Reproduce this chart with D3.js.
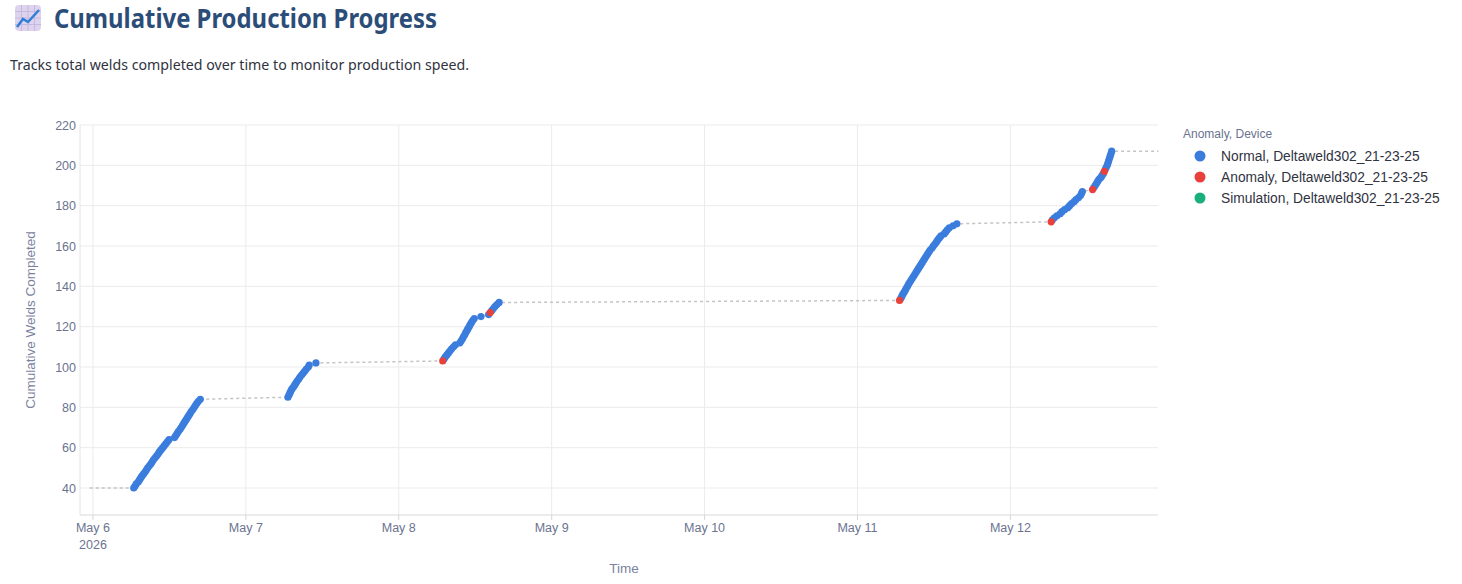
<!DOCTYPE html>
<html><head><meta charset="utf-8">
<script src="https://cdn.jsdelivr.net/npm/d3@7"></script>
<style>body{margin:0;background:#fff;font-family:"Noto Sans","Open Sans",sans-serif;}</style>
</head><body>
<svg id="c" width="1462" height="584"></svg>
<script>
// Data: each cluster = [day string, hours of each weld], counts run consecutively from startCount
const startCount = 40;
const clusterDays = ["2026-05-06","2026-05-07","2026-05-08","2026-05-11","2026-05-12"];
const clusterHours = [
 [6.4,6.6,6.8,7.1,7.3,7.5,7.7,7.95,8.2,8.4,8.6,8.85,9.1,9.3,9.5,9.75,10.0,10.25,10.45,10.7,10.95,11.2,11.45,11.7,11.95,
  12.8,13.0,13.2,13.4,13.65,13.85,14.05,14.25,14.45,14.65,14.85,15.05,15.25,15.45,15.7,15.9,16.1,16.3,16.55,16.85],
 [6.6,6.75,6.9,7.05,7.2,7.45,7.65,7.85,8.05,8.3,8.5,8.75,9.0,9.25,9.5,9.8,9.95,11.0],
 [6.9,7.1,7.3,7.55,7.8,8.05,8.3,8.6,8.9,9.6,9.8,10.0,10.15,10.35,10.5,10.7,10.85,11.05,11.2,11.4,11.6,11.85,12.9,14.1,14.35,14.6,14.85,15.1,15.4,15.75],
 [6.6,6.8,6.95,7.1,7.3,7.5,7.65,7.85,8.0,8.2,8.4,8.6,8.8,9.0,9.2,9.4,9.6,9.8,10.0,10.2,10.4,10.6,10.8,11.0,11.2,11.4,11.7,11.9,12.15,12.4,12.6,12.85,13.1,13.6,13.85,14.1,14.4,15.0,15.6],
 [6.4,6.6,6.9,7.3,7.8,8.1,8.5,9.0,9.3,9.6,10.0,10.3,10.7,11.0,11.15,11.3,12.9,13.1,13.3,13.5,13.7,13.9,14.2,14.4,14.6,14.75,14.9,15.05,15.2,15.3,15.4,15.5,15.6,15.7,15.8,15.9]
];
const anomalyCounts = [103,127,133,172,188,197];
const lineStart = ["2026-05-05T23:30", 40];
const lineEnd = ["2026-05-12T23:15", 207];
const yTicks = [40,60,80,100,120,140,160,180,200,220];
const xTickDays = ["2026-05-06","2026-05-07","2026-05-08","2026-05-09","2026-05-10","2026-05-11","2026-05-12"];
const legendItems = [["Normal, Deltaweld302_21-23-25","#3b7ddd"],["Anomaly, Deltaweld302_21-23-25","#e8413c"],["Simulation, Deltaweld302_21-23-25","#1aaf7a"]];

const parse = d3.timeParse("%Y-%m-%dT%H:%M");
const pts = [];
let c = startCount;
clusterDays.forEach((d,i)=>{
  clusterHours[i].forEach(h=>{
    const t = parse(d+"T00:00"); t.setTime(t.getTime()+h*3600e3);
    pts.push({t, v:c, a:anomalyCounts.includes(c)}); c++;
  });
});
const linePts = [{t:parse(lineStart[0]),v:lineStart[1]},...pts,{t:parse(lineEnd[0]),v:lineEnd[1]}];

const svg = d3.select("#c");
const L=80,R=1158,T=125,B=515;
const x = d3.scaleTime().domain([parse("2026-05-05T21:58"),parse("2026-05-12T23:10")]).range([L,R]);
const y0 = d3.scaleLinear().domain([40,220]).range([488,125]);
const y = d3.scaleLinear().domain([y0.invert(B), y0.invert(T)]).range([B,T]);

// title
const ic = svg.append("g").attr("transform","translate(15,5)");
ic.append("rect").attr("width",26).attr("height",26).attr("rx",4).attr("fill","#ddd3ee");
[6.5,13,19.5].forEach(p=>{ic.append("line").attr("x1",p).attr("x2",p).attr("y1",0).attr("y2",26).attr("stroke","#c6b9df");
 ic.append("line").attr("y1",p).attr("y2",p).attr("x1",0).attr("x2",26).attr("stroke","#c6b9df");});
ic.append("polyline").attr("points","2,22 8,14 13,17 24,5").attr("fill","none").attr("stroke","#2f7fd6").attr("stroke-width",2.5);
svg.append("text").attr("x",54).attr("y",28).attr("font-size",27).attr("font-weight",700).attr("fill","#2b4d78")
 .attr("textLength",383).attr("lengthAdjust","spacingAndGlyphs").text("Cumulative Production Progress");
svg.append("text").attr("x",10).attr("y",70).attr("font-size",14.5).attr("fill","#31333f")
 .attr("textLength",459).attr("lengthAdjust","spacingAndGlyphs").text("Tracks total welds completed over time to monitor production speed.");

const af = '"Liberation Sans",Arial,sans-serif';
svg.append("g").selectAll("line").data(yTicks).join("line")
 .attr("x1",L).attr("x2",R).attr("y1",d=>y(d)).attr("y2",d=>y(d)).attr("stroke","#ebebeb");
svg.append("g").selectAll("line").data(xTickDays).join("line")
 .attr("x1",d=>x(parse(d+"T00:00"))).attr("x2",d=>x(parse(d+"T00:00"))).attr("y1",T).attr("y2",B).attr("stroke","#ebebeb");
svg.append("line").attr("x1",L).attr("x2",L).attr("y1",T).attr("y2",B).attr("stroke","#e4e4e4");
svg.append("line").attr("x1",L).attr("x2",R).attr("y1",B).attr("y2",B).attr("stroke","#d8d8d8");
svg.append("g").selectAll("text").data(yTicks).join("text")
 .attr("x",L-4).attr("y",d=>y(d)+4.5).attr("text-anchor","end").attr("font-size",12.5).attr("font-family",af).attr("fill","#6b7390").text(d=>d);
const fmt = d3.timeFormat("%b %-d");
xTickDays.forEach((d,i)=>{
  const xx = x(parse(d+"T00:00"));
  svg.append("line").attr("x1",xx).attr("x2",xx).attr("y1",B).attr("y2",B+5).attr("stroke","#d8d8d8");
  svg.append("text").attr("x",xx).attr("y",B+17).attr("text-anchor","middle").attr("font-size",12.5).attr("font-family",af).attr("fill","#6b7390").text(fmt(parse(d+"T00:00")));
  if(i===0) svg.append("text").attr("x",xx).attr("y",B+34).attr("text-anchor","middle").attr("font-size",12.5).attr("font-family",af).attr("fill","#6b7390").text("2026");
});
svg.append("text").attr("transform",`translate(35,${(T+B)/2}) rotate(-90)`).attr("text-anchor","middle").attr("font-size",13.5).attr("font-family",af).attr("fill","#7a82a0").text("Cumulative Welds Completed");
svg.append("text").attr("x",624).attr("y",573).attr("text-anchor","middle").attr("font-size",13.5).attr("font-family",af).attr("fill","#7a82a0").text("Time");

svg.append("path").datum(linePts).attr("d",d3.line().x(d=>x(d.t)).y(d=>y(d.v)))
 .attr("fill","none").attr("stroke","#c4c4c4").attr("stroke-width",1.5).attr("stroke-dasharray","3,3");
svg.append("g").selectAll("circle").data(pts.filter(p=>!p.a)).join("circle")
 .attr("cx",d=>x(d.t)).attr("cy",d=>y(d.v)).attr("r",3.6).attr("fill",legendItems[0][1]);
svg.append("g").selectAll("circle").data(pts.filter(p=>p.a)).join("circle")
 .attr("cx",d=>x(d.t)).attr("cy",d=>y(d.v)).attr("r",3.6).attr("fill",legendItems[1][1]);

svg.append("text").attr("x",1183).attr("y",138).attr("font-size",12).attr("font-family",af).attr("fill","#6b7390").text("Anomaly, Device");
legendItems.forEach((it,i)=>{
  const yy=156+i*21;
  svg.append("circle").attr("cx",1200).attr("cy",yy).attr("r",5.5).attr("fill",it[1]);
  svg.append("text").attr("x",1221).attr("y",yy+5).attr("font-size",13.8).attr("font-family",af).attr("fill","#31333f").text(it[0]);
});
</script>
</body></html>
